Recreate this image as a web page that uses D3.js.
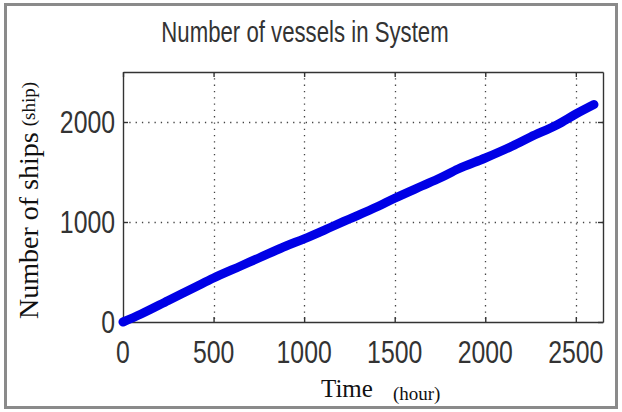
<!DOCTYPE html>
<html>
<head>
<meta charset="UTF-8" />
<title>Number of vessels in System</title>
<style>
  body { margin: 0; background: #fff; }
</style>
</head>
<body>
<script src="https://d3js.org/d3.v7.min.js"></script>
<script>
// values
var hours = [0, 100, 250, 400, 500, 650, 750, 900, 1000, 1150, 1250, 1400, 1500, 1650, 1750, 1850, 2000, 2150, 2250, 2400, 2500, 2600];
var ships = [0, 80, 215, 350, 440, 560, 640, 760, 832, 950, 1030, 1150, 1238, 1360, 1440, 1530, 1640, 1760, 1850, 1975, 2080, 2175];
var xTicks = [0, 500, 1000, 1500, 2000, 2500];
var yTicks = [0, 1000, 2000];

var W = 622, H = 412;
var svg = d3.select("body").append("svg")
    .attr("width", W)
    .attr("height", H);

// outer frame
svg.append("rect")
    .attr("x", 5.5).attr("y", 4.5)
    .attr("width", 611).attr("height", 403)
    .attr("fill", "#fff")
    .attr("stroke", "#8a8a8a")
    .attr("stroke-width", 3);

var pLeft = 123, pRight = 603, pTop = 72, pBottom = 322;

var x = d3.scaleLinear().domain([0, 2650]).range([pLeft, pRight]);
var y = d3.scaleLinear().domain([0, 2500]).range([pBottom, pTop]);

// grid
var grid = svg.append("g").attr("stroke", "#444").attr("stroke-dasharray", "1.3,5").attr("stroke-width", 1.3);
grid.selectAll(".gx").data(xTicks.slice(1)).join("line")
    .attr("x1", d => Math.round(x(d)) + 0.5).attr("x2", d => Math.round(x(d)) + 0.5)
    .attr("y1", pTop).attr("y2", pBottom);
grid.selectAll(".gy").data(yTicks.slice(1)).join("line")
    .attr("y1", d => Math.round(y(d)) + 0.5).attr("y2", d => Math.round(y(d)) + 0.5)
    .attr("x1", pLeft).attr("x2", pRight);

// axes with inward ticks, box on all sides
function tickFmt() { return ""; }
svg.append("g").attr("transform", "translate(0," + pBottom + ")")
    .call(d3.axisBottom(x).tickValues(xTicks).tickSize(-5).tickSizeOuter(0).tickFormat(tickFmt));
svg.append("g").attr("transform", "translate(0," + pTop + ")")
    .call(d3.axisTop(x).tickValues(xTicks).tickSize(-5).tickSizeOuter(0).tickFormat(tickFmt));
svg.append("g").attr("transform", "translate(" + pLeft + ",0)")
    .call(d3.axisLeft(y).tickValues(yTicks).tickSize(-5).tickSizeOuter(0).tickFormat(tickFmt));
svg.append("g").attr("transform", "translate(" + pRight + ",0)")
    .call(d3.axisRight(y).tickValues(yTicks).tickSize(-5).tickSizeOuter(0).tickFormat(tickFmt));
svg.selectAll(".domain, .tick line").attr("stroke", "#333").attr("stroke-width", 1.4);

// line
svg.append("path")
    .datum(d3.zip(hours, ships))
    .attr("fill", "none")
    .attr("stroke", "#0000e6")
    .attr("stroke-width", 9)
    .attr("stroke-linecap", "round")
    .attr("stroke-linejoin", "round")
    .attr("d", d3.line().curve(d3.curveMonotoneX).x(d => x(d[0])).y(d => y(d[1])));

// tick labels (narrow sans)
var sans = "'Liberation Sans', Arial, sans-serif";
svg.selectAll(".xl").data(xTicks).join("text")
    .attr("transform", d => "translate(" + x(d) + ",363) scale(0.8,1)")
    .attr("text-anchor", "middle")
    .attr("font-family", sans).attr("font-size", 31)
    .attr("fill", "#333")
    .text(d => d);
svg.selectAll(".yl").data(yTicks).join("text")
    .attr("transform", d => "translate(" + (pLeft - 8) + "," + (y(d) + 11) + ") scale(0.8,1)")
    .attr("text-anchor", "end")
    .attr("font-family", sans).attr("font-size", 31)
    .attr("fill", "#333")
    .text(d => d);

// title
svg.append("text")
    .attr("transform", "translate(305,42) scale(0.74,1)")
    .attr("text-anchor", "middle")
    .attr("font-family", sans).attr("font-size", 30)
    .attr("fill", "#333")
    .text("Number of vessels in System");

// axis labels (serif)
var serif = "'Liberation Serif', 'Times New Roman', serif";
var xl = svg.append("text")
    .attr("x", 321).attr("y", 397)
    .attr("font-family", serif).attr("fill", "#111");
xl.append("tspan").attr("font-size", 25).text("Time");
xl.append("tspan").attr("font-size", 19).attr("dx", 20).attr("dy", 3).text("(hour)");

var yl = svg.append("text")
    .attr("transform", "translate(38,319) rotate(-90)")
    .attr("font-family", serif).attr("fill", "#111");
yl.append("tspan").attr("font-size", 28).text("Number of ships");
yl.append("tspan").attr("font-size", 19).attr("dx", 6).attr("dy", -3).text("(ship)");
</script>
</body>
</html>
